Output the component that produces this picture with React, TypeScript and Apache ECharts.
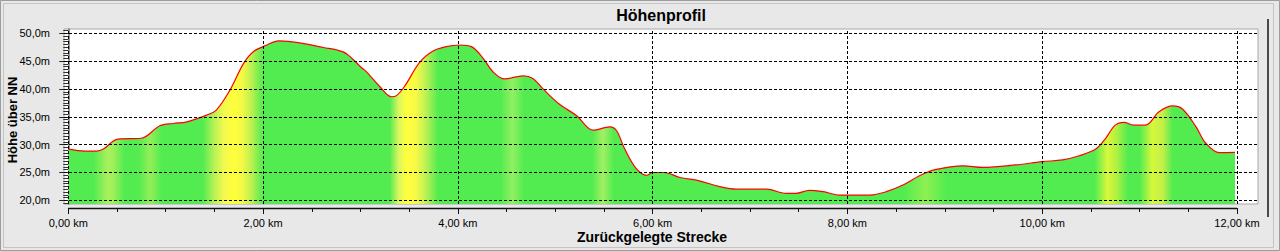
import React, { useEffect, useRef } from "react";
import * as echarts from "echarts";

// ---- data ----
const distanceKm = [
  0.0, 0.17, 0.29, 0.36, 0.51, 0.75, 0.94, 1.08, 1.22, 1.42, 1.52, 1.66, 1.8, 1.9, 2.04, 2.16,
  2.28, 2.45, 2.62, 2.76, 2.86, 3.0, 3.06, 3.2, 3.32, 3.37, 3.45, 3.61, 3.75, 3.88, 4.02, 4.14,
  4.26, 4.36, 4.48, 4.67, 4.77, 4.87, 5.04, 5.22, 5.39, 5.56, 5.63, 5.71, 5.83, 5.94, 6.0, 6.12,
  6.28, 6.48, 6.69, 6.86, 7.17, 7.37, 7.47, 7.61, 7.75, 7.92, 8.23, 8.4, 8.57, 8.74, 8.9, 9.19,
  9.39, 9.73, 10.0, 10.21, 10.38, 10.55, 10.65, 10.75, 10.84, 10.94, 11.06, 11.2, 11.34, 11.44,
  11.58, 11.68, 11.82, 11.98,
];
const elevationM = [
  29.2, 28.85, 28.85, 29.2, 31.0, 31.15, 33.4, 33.8, 34.1, 35.3, 36.2, 39.8, 44.6, 46.7, 47.9, 48.65,
  48.5, 48.05, 47.45, 47.0, 46.3, 44.0, 43.1, 40.4, 38.6, 38.8, 40.4, 44.8, 46.85, 47.6, 47.9, 47.6,
  45.5, 43.1, 41.8, 42.35, 41.9, 40.1, 37.3, 35.2, 32.6, 33.2, 32.5, 29.35, 25.75, 24.5, 25.0, 25.0,
  24.1, 23.5, 22.45, 22.0, 22.0, 21.25, 21.25, 21.8, 21.55, 20.95, 20.95, 21.55, 22.75, 24.4, 25.5, 26.2,
  25.9, 26.35, 26.95, 27.25, 28.0, 29.2, 31.1, 33.5, 34.0, 33.5, 33.5, 35.9, 36.95, 36.4,
  33.2, 30.25, 28.55, 28.6,
];
const xTickValues = [0, 2, 4, 6, 8, 10, 12];
const xMinorTickValues = [0.5, 1, 1.5, 2.5, 3, 3.5, 4.5, 5, 5.5, 6.5, 7, 7.5, 8.5, 9, 9.5, 10.5, 11, 11.5];
const yTickValues = [20, 25, 30, 35, 40, 45, 50];
const yMinorTickValues = [
  19.5, 20.5, 21, 21.5, 22, 22.5, 23, 23.5, 24, 24.5, 25.5, 26, 26.5, 27, 27.5, 28, 28.5, 29, 29.5,
  30.5, 31, 31.5, 32, 32.5, 33, 33.5, 34, 34.5, 35.5, 36, 36.5, 37, 37.5, 38, 38.5, 39, 39.5,
  40.5, 41, 41.5, 42, 42.5, 43, 43.5, 44, 44.5, 45.5, 46, 46.5, 47, 47.5, 48, 48.5, 49, 49.5, 50.5,
];
// fill colour bands along the track: [km, colour]
const G = "#52ec50";
const fillBands: [number, string][] = [
  [0.0, G], [0.26, G], [0.4, "#a8f05c"], [0.46, "#a0f05a"], [0.58, G], [0.72, G], [0.84, "#94ee58"], [0.96, G],
  [1.38, G], [1.5, "#b8f254"], [1.6, "#f4f850"], [1.7, "#ffff3a"], [1.79, "#f2f846"], [1.88, "#bcf050"], [2.0, G],
  [3.3, G], [3.39, "#d8f660"], [3.47, "#ffff40"], [3.56, "#fafa44"], [3.66, "#c4f254"], [3.8, G],
  [4.44, G], [4.56, "#92f062"], [4.68, G], [5.38, G], [5.49, "#a2f062"], [5.6, G],
  [8.58, G], [8.8, "#8ef052"], [9.02, G],
  [10.54, G], [10.67, "#daf83a"], [10.77, "#acf042"], [10.88, G],
  [11.0, G], [11.13, "#d6f83c"], [11.24, "#c2f048"], [11.34, G], [11.98, G],
];

const xMin = -0.044;
const xMax = 12.216;
const yMin = 19.34;
const yMax = 50.77;

const labelFont = "'Liberation Sans', Arial, sans-serif";

export default function App() {
  const ref = useRef<HTMLDivElement>(null);
  useEffect(() => {
    if (!ref.current) return;
    const chart = echarts.init(ref.current, undefined, { renderer: "svg" });
    const lastKm = distanceKm[distanceKm.length - 1];
    const stops = fillBands.map(([km, c]) => ({ offset: Math.min(1, km / lastKm), color: c }));
    const gridLine = { type: [3, 2] as any, color: "#000", width: 1 };

    chart.setOption({
      animation: false,
      backgroundColor: "#e8e8e8",
      grid: {
        left: 64,
        top: 29,
        width: 1194,
        height: 175,
        show: true,
        backgroundColor: "#ffffff",
        borderColor: "#a8a8a8",
        borderWidth: 1,
      },
      xAxis: [
        {
          type: "value",
          min: xMin,
          max: xMax,
          position: "bottom",
          offset: 4,
          axisLine: { show: false },
          axisTick: { show: true, customValues: xTickValues, length: 6, lineStyle: { color: "#111" } },
          axisLabel: {
            customValues: xTickValues,
            margin: 9,
            fontFamily: labelFont,
            fontSize: 11,
            color: "#000",
            formatter: (v: number) => v.toFixed(2).replace(".", ",") + " km",
          },
          splitLine: { show: false },
        },
        {
          type: "value",
          min: xMin,
          max: xMax,
          position: "bottom",
          offset: 4,
          axisLine: { show: false },
          axisTick: { show: true, customValues: xMinorTickValues, length: 4, lineStyle: { color: "#111" } },
          axisLabel: { show: false },
          splitLine: { show: false },
        },
      ],
      yAxis: [
        {
          type: "value",
          min: yMin,
          max: yMax,
          position: "left",
          offset: 1,
          axisLine: { show: true, lineStyle: { color: "#707070", width: 1.5 } },
          axisTick: { show: true, customValues: yTickValues, length: 9, lineStyle: { color: "#222" } },
          axisLabel: {
            customValues: yTickValues,
            margin: 13,
            fontFamily: labelFont,
            fontSize: 11,
            color: "#000",
            formatter: (v: number) => v.toFixed(1).replace(".", ",") + "m",
          },
          splitLine: { show: false },
        },
        {
          type: "value",
          min: yMin,
          max: yMax,
          position: "left",
          offset: 1,
          axisLine: { show: false },
          axisTick: { show: true, customValues: yMinorTickValues, length: 5, lineStyle: { color: "#333" } },
          axisLabel: { show: false },
          splitLine: { show: false },
        },
      ],
      series: [
        {
          type: "line",
          xAxisIndex: 0,
          yAxisIndex: 0,
          data: distanceKm.map((d, i) => [d, elevationM[i]]),
          showSymbol: false,
          symbol: "none",
          smooth: 0.35,
          lineStyle: { color: "#ff0000", width: 1.2 },
          areaStyle: {
            opacity: 1,
            color: new echarts.graphic.LinearGradient(0, 0, 1, 0, stops),
          },
          markLine: {
            silent: true,
            symbol: "none",
            animation: false,
            label: { show: false },
            lineStyle: gridLine,
            emphasis: { disabled: true },
            data: [
              ...yTickValues.map((v) => ({ yAxis: v })),
              ...xTickValues.map((v) => ({ xAxis: v })),
            ],
          },
        },
      ],
      graphic: [
        {
          id: "frameOuter",
          type: "rect",
          shape: { x: 0.5, y: 0.5, width: 1279, height: 250 },
          style: { fill: "none", stroke: "#9c9c9c", lineWidth: 1 },
          silent: true,
        },
        {
          id: "frameInner",
          type: "rect",
          shape: { x: 3.5, y: 3.5, width: 1270, height: 244 },
          style: { fill: "none", stroke: "#c4c4c4", lineWidth: 1 },
          silent: true,
        },
        {
          id: "sideBar",
          type: "rect",
          shape: { x: 1267, y: 19, width: 2, height: 198 },
          style: { fill: "#4a4a4a" },
          silent: true,
        },
        {
          id: "title",
          type: "text",
          x: 661,
          y: 15,
          style: {
            text: "Höhenprofil",
            fontFamily: labelFont,
            fontWeight: "bold",
            fontSize: 16,
            fill: "#000",
            align: "center",
            verticalAlign: "middle",
          },
        },
        {
          id: "xName",
          type: "text",
          x: 652,
          y: 237,
          style: {
            text: "Zurückgelegte Strecke",
            fontFamily: labelFont,
            fontWeight: "bold",
            fontSize: 14,
            fill: "#000",
            align: "center",
            verticalAlign: "middle",
          },
        },
        {
          id: "yName",
          type: "text",
          x: 12.5,
          y: 120,
          rotation: Math.PI / 2,
          style: {
            text: "Höhe über NN",
            fontFamily: labelFont,
            fontWeight: "bold",
            fontSize: 13,
            fill: "#000",
            align: "center",
            verticalAlign: "middle",
          },
        },
      ],
    });

    // x axis line: from first to last tick, just below the plot
    const p0 = chart.convertToPixel({ xAxisIndex: 0, yAxisIndex: 0 }, [xTickValues[0], yMin]) as number[];
    const p1 = chart.convertToPixel({ xAxisIndex: 0, yAxisIndex: 0 }, [xTickValues[xTickValues.length - 1], yMin]) as number[];
    if (p0 && p1) {
      chart.setOption({
        graphic: [
          {
            id: "xAxisLine",
            type: "line",
            shape: { x1: p0[0], y1: p0[1] + 4.5, x2: p1[0], y2: p1[1] + 4.5 },
            style: { stroke: "#111", lineWidth: 1.5 },
            silent: true,
          },
        ],
      });
    }

    return () => chart.dispose();
  }, []);

  return (
    <div
      ref={ref}
      style={{ position: "fixed", left: 0, top: 0, width: 1280, height: 251 }}
    />
  );
}
